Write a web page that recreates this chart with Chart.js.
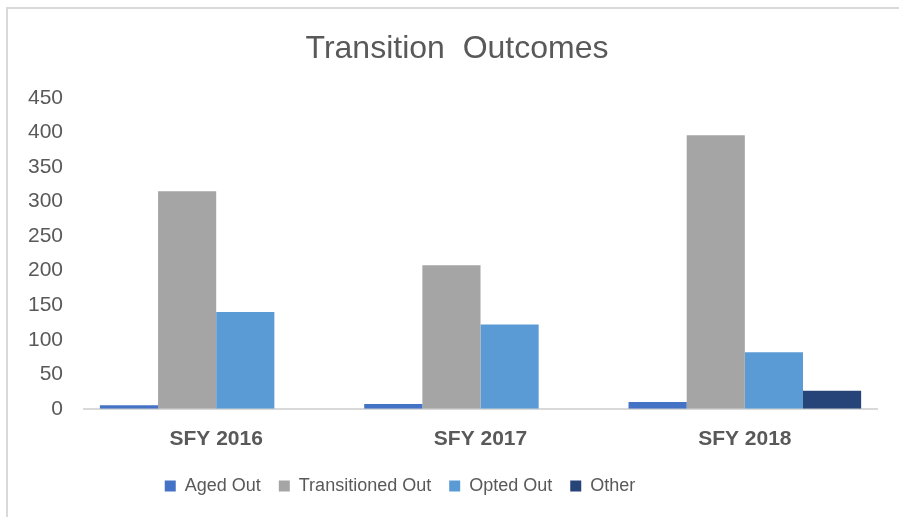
<!DOCTYPE html>
<html>
<head>
<meta charset="utf-8">
<script src="https://cdn.jsdelivr.net/npm/chart.js@4"></script>
<style>
  body { margin: 0; background: #fff; }
  #wrap { position: absolute; left: 0; top: 0; width: 899px; height: 517px; overflow: hidden; }
  #frame { position: absolute; left: 6px; top: 7px; width: 910px; height: 530px;
           border-left: 2px solid #d9d9d9; border-top: 2px solid #d9d9d9; }
  canvas { position: absolute; left: 0; top: 0; }
</style>
</head>
<body>
<div id="wrap">
  <div id="frame"></div>
  <canvas id="outcomesChart" width="899" height="517"></canvas>
</div>
<script>
var chartTitle = 'Transition  Outcomes';
var categories = ['SFY 2016', 'SFY 2017', 'SFY 2018'];
var agedOut = [5, 7, 10];
var transitionedOut = [315, 208, 396];
var optedOut = [140, 122, 82];
var other = [0, 0, 26];
var yTicks = [0, 50, 100, 150, 200, 250, 300, 350, 400, 450];

// title sits a little right of the plot centre, legend a little left
var titlePlugin = {
  id: 'titlePlugin',
  afterDraw: function(chart) {
    var c = chart.ctx;
    c.save();
    c.fillStyle = '#595959';
    c.font = 'normal 32px "Liberation Sans"';
    c.textAlign = 'center';
    c.textBaseline = 'middle';
    c.fillText(chartTitle, 457, 49);
    c.restore();
  }
};

var legendShift = {
  id: 'legendShift',
  afterLayout: function(chart) {
    var lg = chart.legend;
    var dx = 400 - (lg.left + lg.right) / 2;
    lg.left += dx;
    lg.right += dx;
  }
};

var ctx = document.getElementById('outcomesChart').getContext('2d');
new Chart(ctx, {
  type: 'bar',
  data: {
    labels: categories,
    datasets: [
      { label: 'Aged Out', data: agedOut, backgroundColor: '#4472C4' },
      { label: 'Transitioned Out', data: transitionedOut, backgroundColor: '#A5A5A5' },
      { label: 'Opted Out', data: optedOut, backgroundColor: '#5B9BD5' },
      { label: 'Other', data: other, backgroundColor: '#264478' }
    ]
  },
  plugins: [titlePlugin, legendShift],
  options: {
    responsive: false,
    animation: false,
    datasets: {
      bar: { barPercentage: 1, categoryPercentage: 0.88 }
    },
    layout: { padding: { left: 7, right: 22, top: 98, bottom: 12 } },
    plugins: {
      title: { display: false },
      legend: {
        position: 'bottom',
        labels: {
          color: '#595959',
          font: { family: 'Liberation Sans', size: 18 },
          boxWidth: 11,
          boxHeight: 11,
          padding: 18
        }
      },
      tooltip: { enabled: false }
    },
    scales: {
      x: {
        grid: { display: false, drawTicks: false },
        border: { color: '#d9d9d9', width: 2 },
        afterFit: function(axis) { axis.height -= 11; },
        ticks: {
          color: '#595959',
          font: { family: 'Liberation Sans', size: 21, weight: 'bold' },
          padding: 18
        }
      },
      y: {
        min: 0,
        max: 450,
        grid: { display: false, drawTicks: false },
        border: { display: false },
        afterBuildTicks: function(axis) {
          axis.ticks = yTicks.map(function(v) { return { value: v }; });
        },
        ticks: {
          color: '#595959',
          font: { family: 'Liberation Sans', size: 21 },
          padding: 21
        }
      }
    }
  }
});
</script>
</body>
</html>
